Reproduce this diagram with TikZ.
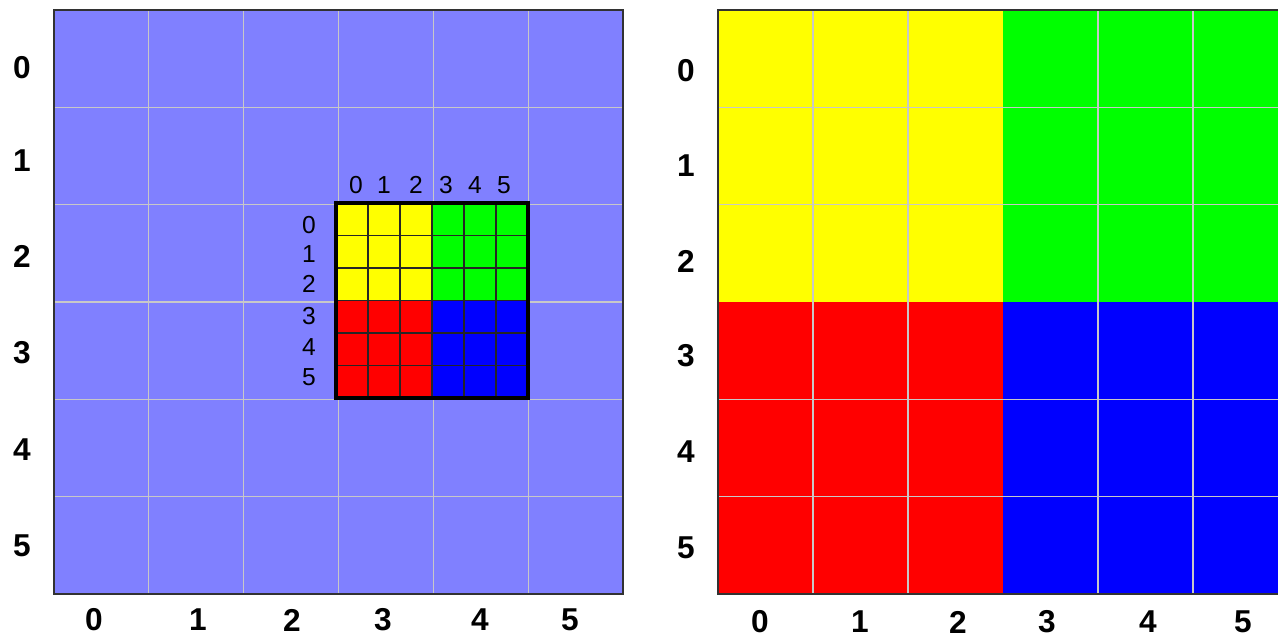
\documentclass[tikz,border=0pt]{standalone}
\usepackage{fontspec}
\setmainfont{Liberation Sans}
\usepackage{xcolor}
\usepackage{tikz}
\usetikzlibrary{positioning, calc}
\definecolor{gridblue}{RGB}{128, 128, 255}
\definecolor{tileyellow}{RGB}{255, 255, 0}
\definecolor{tilegreen}{RGB}{0, 255, 0}
\definecolor{tilered}{RGB}{255, 0, 0}
\definecolor{tileblue}{RGB}{0, 0, 255}
\definecolor{gridline}{RGB}{200, 200, 200}
\definecolor{frameline}{RGB}{50, 50, 50}

\tikzset{
    outerlabel/.style={font=\fontsize{18}{20}\selectfont\bfseries, inner sep=0pt},
    innerlabel/.style={font=\fontsize{14}{16}\selectfont, inner sep=0pt},
    thingrid/.style={gridline, line width=0.6pt},
    tilegrid/.style={black!85, line width=0.8pt},
    panelframe/.style={frameline, line width=1.2pt}
}

\begin{document}
\begin{tikzpicture}[x=0.02cm, y=-0.02cm]
    \useasboundingbox (0,0) rectangle (1278,637);
    \clip (0,0) rectangle (1278,637);
    % Left panel: coarse grid
    \fill[gridblue] (54,10) rectangle (623,594);
    \foreach \k in {1,...,5} {
        \draw[thingrid] ({54+94.83*\k},10) -- ({54+94.83*\k},594);
        \draw[thingrid] (54,{10+97.33*\k}) -- (623,{10+97.33*\k});
    }
    \draw[panelframe] (54,10) rectangle (623,594);
    % Fine grid inside cells (3,2)-(4,3)
    \fill[tileyellow] (336,203) rectangle (432,300.5);
    \fill[tilegreen] (432,203) rectangle (528,300.5);
    \fill[tilered] (336,300.5) rectangle (432,398);
    \fill[tileblue] (432,300.5) rectangle (528,398);
    \foreach \k in {1,...,5} {
        \draw[tilegrid] ({336+32*\k},203) -- ({336+32*\k},398);
        \draw[tilegrid] (336,{203+32.5*\k}) -- (528,{203+32.5*\k});
    }
    \draw[black, line width=1.8pt] (336,203) rectangle (528,398);
    % Fine grid labels
    \foreach \i/\x in {0/356,1/384,2/416,3/446,4/475,5/504}
        \node[innerlabel] (icol\i) at (\x,185) {\i};
    \foreach \i/\y in {0/225,1/254,2/284,3/316,4/347,5/377}
        \node[innerlabel] (irow\i) at (309,\y) {\i};
    % Left panel labels
    \foreach \i/\y in {0/68,1/161,2/256,3/353,4/450,5/546}
        \node[outerlabel] (lrow\i) at (22,\y) {\i};
    \foreach \i/\x in {0/94,1/198,2/292,3/383,4/480,5/570}
        \node[outerlabel] (lcol\i) at (\x,620) {\i};
    % Right panel: four coloured quadrants
    \fill[tileyellow] (718,10) rectangle (1003,302);
    \fill[tilegreen] (1003,10) rectangle (1290,302);
    \fill[tilered] (718,302) rectangle (1003,594);
    \fill[tileblue] (1003,302) rectangle (1290,594);
    \foreach \k in {1,2,4,5}
        \draw[thingrid] ({718+95*\k},10) -- ({718+95*\k},594);
    \foreach \k in {1,2,4,5}
        \draw[thingrid] (718,{10+97.33*\k}) -- (1290,{10+97.33*\k});
    \draw[panelframe] (1290,10) -- (718,10) -- (718,594) -- (1290,594);
    % Right panel labels
    \foreach \i/\y in {0/71,1/166,2/261,3/356,4/452,5/548}
        \node[outerlabel] (rrow\i) at (686,\y) {\i};
    \foreach \i/\x in {0/760,1/860,2/958,3/1047,4/1148,5/1243}
        \node[outerlabel] (rcol\i) at (\x,622) {\i};
\end{tikzpicture}
\end{document}
